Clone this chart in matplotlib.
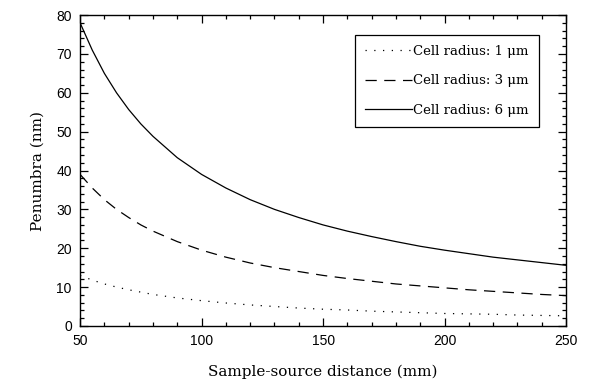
import numpy as np
import matplotlib
matplotlib.use("Agg")
import matplotlib.pyplot as plt
from matplotlib.ticker import MultipleLocator

# Values
distance = [50, 55, 60, 65, 70, 75, 80, 90, 100, 110, 120, 130, 140, 150,
            160, 170, 180, 190, 200, 210, 220, 230, 240, 250]
radius_6 = [78.0, 71.0, 65.0, 60.0, 55.7, 52.0, 48.8, 43.3, 39.0, 35.5, 32.5, 30.0, 27.9, 26.0,
            24.4, 23.0, 21.7, 20.5, 19.5, 18.6, 17.7, 17.0, 16.3, 15.6]
radius_3 = [39.0, 35.5, 32.5, 30.0, 27.9, 26.0, 24.4, 21.7, 19.5, 17.7, 16.2, 15.0, 14.0, 13.0,
            12.2, 11.5, 10.8, 10.3, 9.8, 9.3, 8.9, 8.5, 8.1, 7.8]
radius_1 = [13.0, 11.8, 10.8, 10.0, 9.3, 8.7, 8.1, 7.2, 6.5, 5.9, 5.4, 5.0, 4.6, 4.3,
            4.1, 3.8, 3.6, 3.4, 3.2, 3.1, 3.0, 2.8, 2.7, 2.6]
labels = [u"Cell radius: 1 \u03bcm", u"Cell radius: 3 \u03bcm", u"Cell radius: 6 \u03bcm"]

fig = plt.figure(figsize=(5.89, 3.88), dpi=100)
ax = fig.add_axes([0.136, 0.160, 0.825, 0.801])

ax.plot(distance, radius_1, color="black", lw=0.9, linestyle=(0, (1, 6)), label=labels[0])
ax.plot(distance, radius_3, color="black", lw=0.9, linestyle=(0, (9, 6)), label=labels[1])
ax.plot(distance, radius_6, color="black", lw=0.9, linestyle="-", label=labels[2])

ax.set_xlim(50, 250)
ax.set_ylim(0, 80)
ax.xaxis.set_major_locator(MultipleLocator(50))
ax.xaxis.set_minor_locator(MultipleLocator(10))
ax.yaxis.set_major_locator(MultipleLocator(10))
ax.yaxis.set_minor_locator(MultipleLocator(2))
ax.tick_params(which="both", direction="in", top=True, right=True, width=0.9)
ax.tick_params(which="major", length=6, labelsize=10, pad=6)
ax.tick_params(which="minor", length=3)
for lab in ax.get_xticklabels() + ax.get_yticklabels():
    lab.set_family("Liberation Sans")
for sp in ax.spines.values():
    sp.set_linewidth(1.0)

ax.set_xlabel("Sample-source distance (mm)", family="DejaVu Serif", fontsize=11, labelpad=12)
ax.set_ylabel("Penumbra (nm)", family="DejaVu Serif", fontsize=11, labelpad=8)

leg = ax.legend(loc="upper right", bbox_to_anchor=(0.944, 0.936), borderaxespad=0,
                fancybox=False, edgecolor="black", framealpha=1, handlelength=3.6,
                handletextpad=0.1, borderpad=0.75, labelspacing=1.25,
                prop={"family": "DejaVu Serif", "size": 9.5})
leg.get_frame().set_linewidth(0.9)

fig.savefig("out.png", dpi=100)
